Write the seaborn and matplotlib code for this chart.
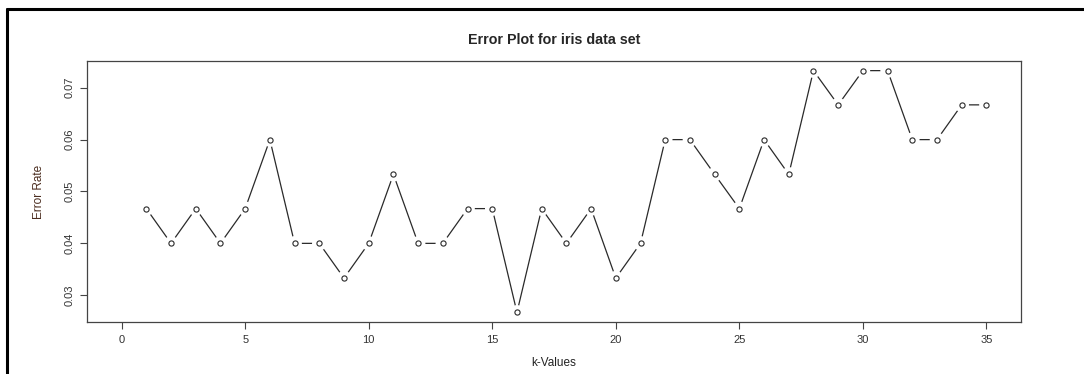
import seaborn as sns
import matplotlib.pyplot as plt
import pandas as pd
from matplotlib.lines import Line2D

# Données : taux d'erreur par valeur de k
k_values = list(range(1, 36))
error_rate = [0.0467, 0.0400, 0.0467, 0.0400, 0.0467, 0.0600, 0.0400, 0.0400, 0.0333, 0.0400,
              0.0533, 0.0400, 0.0400, 0.0467, 0.0467, 0.0267, 0.0467, 0.0400, 0.0467, 0.0333,
              0.0400, 0.0600, 0.0600, 0.0533, 0.0467, 0.0600, 0.0533, 0.0733, 0.0667, 0.0733,
              0.0733, 0.0600, 0.0600, 0.0667, 0.0667]
x_ticks = [0, 5, 10, 15, 20, 25, 30, 35]
y_ticks = [0.03, 0.04, 0.05, 0.06, 0.07]

df = pd.DataFrame({"k": k_values, "err": error_rate})

sns.set_style("white")
plt.rcParams["font.family"] = ["Liberation Sans", "DejaVu Sans"]

fig = plt.figure(figsize=(10.84, 3.74), dpi=100)
ax = fig.add_axes([0.0803, 0.139, 0.8616, 0.698])

# ligne + points façon type="b" de R
sns.lineplot(data=df, x="k", y="err", color="#2a2a2a", linewidth=0.9, ax=ax, zorder=1)
sns.scatterplot(data=df, x="k", y="err", s=110, color="white", edgecolor="none", ax=ax, zorder=2)
sns.scatterplot(data=df, x="k", y="err", s=14, facecolor="white", edgecolor="#2a2a2a",
                linewidth=0.8, ax=ax, zorder=3)

lo, hi = 0, 35
ax.set_xlim(lo - 0.04 * (hi - lo), hi + 0.04 * (hi - lo))
ylo, yhi = min(error_rate), max(error_rate)
ax.set_ylim(ylo - 0.04 * (yhi - ylo), yhi + 0.04 * (yhi - ylo))
ax.set_xticks(x_ticks)
ax.set_yticks(y_ticks)
ax.set_yticklabels([f"{v:.2f}" for v in y_ticks], rotation=90, va="center")
ax.tick_params(axis="both", direction="out", length=5, width=0.8, color="#444444",
               labelsize=8, labelcolor="#333333", left=True, bottom=True, pad=4)

for sp in ax.spines.values():
    sp.set_color("#444444")
    sp.set_linewidth(0.9)

ax.set_xlabel("k-Values", fontsize=8.5, color="#222222", labelpad=9)
ax.set_ylabel("Error Rate", fontsize=8.5, color="#4a2c1e", labelpad=14)
ax.set_title("Error Plot for iris data set", fontsize=10.3, fontweight="bold", pad=12)

# cadre noir de la capture (haut et gauche)
fig.add_artist(Line2D([7 / 1084, 7 / 1084], [0, 1 - 9 / 374], transform=fig.transFigure,
                      color="black", linewidth=2.2))
fig.add_artist(Line2D([7 / 1084, 1], [1 - 9 / 374, 1 - 9 / 374], transform=fig.transFigure,
                      color="black", linewidth=2.2))

plt.savefig("out.png", dpi=100)
